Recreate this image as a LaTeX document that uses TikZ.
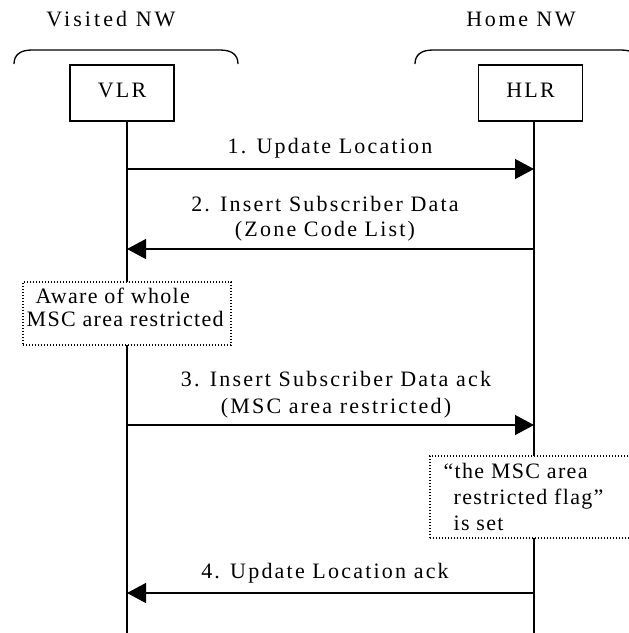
\documentclass[tikz,border=0pt]{standalone}
\usepackage{fontspec}
\setmainfont{Liberation Serif}[LetterSpace=10]
\usetikzlibrary{arrows.meta}
\begin{document}
\begin{tikzpicture}[x=1pt,y=-1pt,
  line width=1.3pt,
  every node/.style={font=\fontsize{22}{26}\selectfont, inner sep=0pt},
  entity/.style={draw, fill=white, minimum width=104pt, minimum height=56pt},
  life/.style={draw},
  msg/.style={draw, -{Triangle[length=19pt,width=20pt]}},
  dotbox/.style={draw, fill=white, line width=1.2pt, dash pattern=on 1.1pt off 1.9pt},
  lbl/.style={anchor=base, align=center},
  netbrace/.style={draw}]
\useasboundingbox (0,0) rectangle (629,633);
\clip (0,0) rectangle (629,633);
% network titles
\node[anchor=base] (vnw) at (111,26) {\addfontfeature{LetterSpace=14}Visited NW};
\node[anchor=base] (hnw) at (521,26) {\addfontfeature{LetterSpace=12}Home NW};
% braces
\draw[netbrace] (14,64) .. controls (14,55) and (20,50) .. (32,50) -- (220,50) .. controls (232,50) and (238,55) .. (238,64);
\draw[netbrace] (415,64) .. controls (415,55) and (421,50) .. (433,50) -- (621,50) .. controls (633,50) and (639,55) .. (639,64);
% entities
\node[entity] (VLR) at (122,93) {};
\node[anchor=base] (vlrt) at (122,97) {VLR};
\node[entity] (HLR) at (530.5,93) {};
\node[anchor=base] (hlrt) at (530.5,97) {HLR};
% lifelines
\coordinate (vend) at (127,640);
\coordinate (hend) at (534,640);
\draw[life] (VLR.south -| vend) -- (vend);
\draw[life] (HLR.south -| hend) -- (hend);
% message endpoints
\coordinate (v1) at (127,169);  \coordinate (h1) at (534,169);
\coordinate (v2) at (127,249);  \coordinate (h2) at (534,249);
\coordinate (v3) at (127,425);  \coordinate (h3) at (534,425);
\coordinate (v4) at (127,593);  \coordinate (h4) at (534,593);
\draw[msg] (v1) -- (h1);
\draw[msg] (h2) -- (v2);
\draw[msg] (v3) -- (h3);
\draw[msg] (h4) -- (v4);
\node[lbl] (l1) at (330,153) {1. Update Location};
\node[lbl, font=\fontsize{22}{25}\selectfont] (l2) at (325,236.7) {2. Insert Subscriber Data\\(Zone Code List)};
\node[lbl, font=\fontsize{22}{26.3}\selectfont] (l3) at (336,413) {3. Insert Subscriber Data ack\\(MSC area restricted)};
\node[lbl] (l4) at (325,578) {4. Update Location ack};
% notes
\node[dotbox, minimum width=208pt, minimum height=63pt] (awarebox) at (127,313.5) {};
\node[anchor=base west, align=left, font=\fontsize{22}{23.7}\selectfont\addfontfeature{LetterSpace=6}] (awaretxt) at (26,326.7) {\hspace*{9pt}Aware of whole\\MSC area restricted};
\node[dotbox, minimum width=220pt, minimum height=82pt] (flagbox) at (540,497) {};
\node[anchor=base west, align=left, font=\fontsize{22}{26.3}\selectfont\addfontfeature{LetterSpace=6}] (flagtxt) at (443,530.7) {“the MSC area\\\hspace*{10pt}restricted flag”\\\hspace*{10pt}is set};
\end{tikzpicture}
\end{document}
